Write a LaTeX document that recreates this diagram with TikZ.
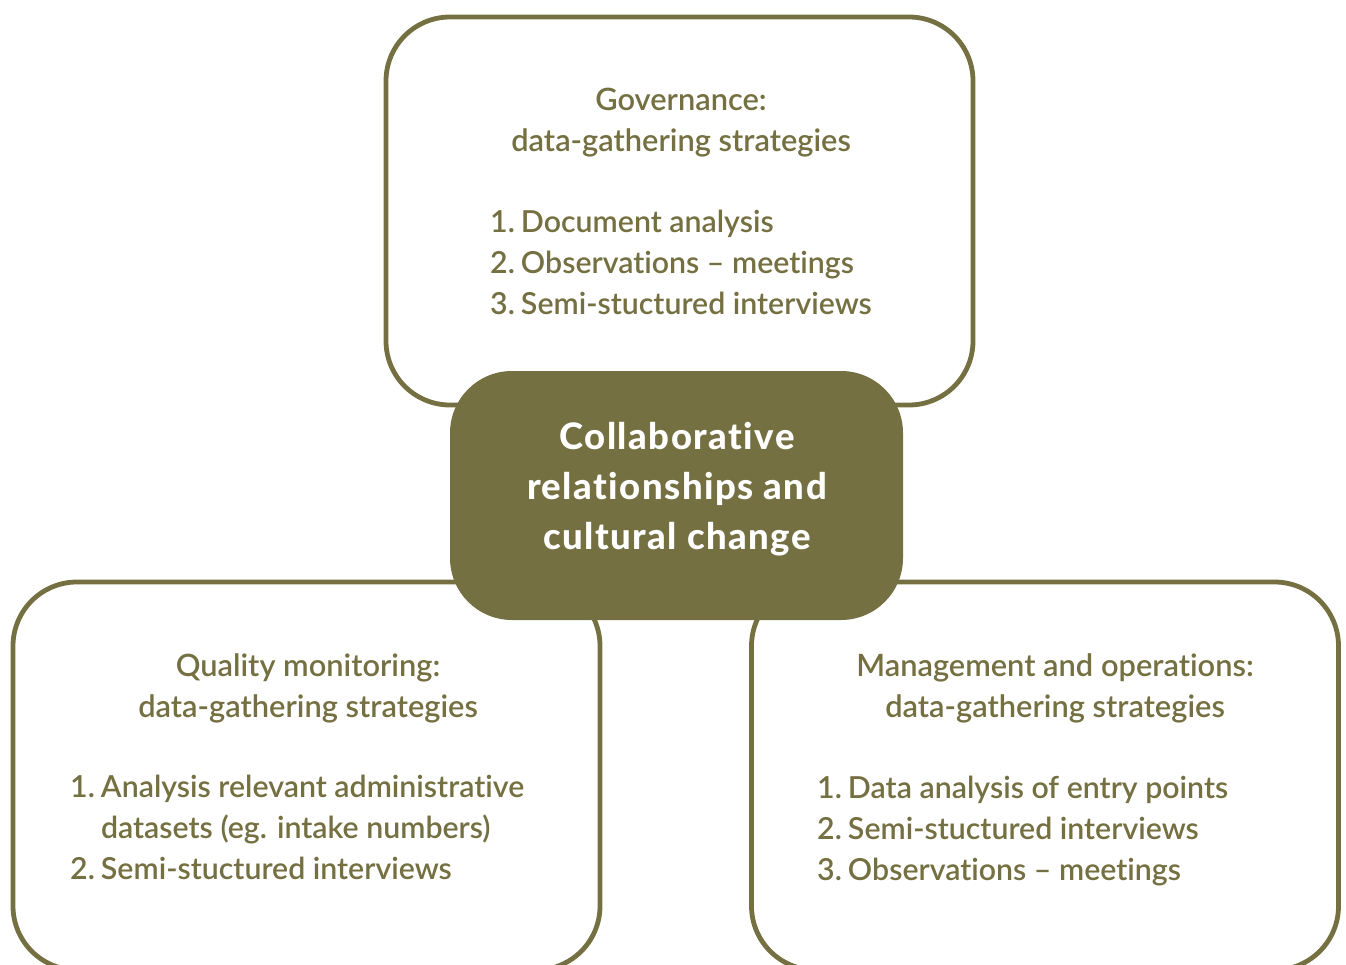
\documentclass[tikz,border=0pt]{standalone}
\usepackage{fontspec}
\setmainfont{Lato}
\IfFontExistsTF{Lato Semibold}{\newfontfamily\bodyfont[Ligatures={TeX,NoCommon}]{Lato Semibold}}{\newfontfamily\bodyfont[Ligatures={TeX,NoCommon}]{Lato}}
\IfFontExistsTF{Lato Heavy}{\newfontfamily\titlefont[LetterSpace=4,Ligatures={TeX,NoCommon}]{Lato Heavy}}{\newfontfamily\titlefont[LetterSpace=4,Ligatures={TeX,NoCommon}]{Lato Bold}}
\definecolor{olive}{RGB}{117,112,65}
\newcommand{\itm}[1]{#1\hspace{0.2em}}
\begin{document}
\begin{tikzpicture}[x=1pt,y=-1pt,
  outline/.style={draw=olive,line width=4.8pt,fill=white,rounded corners=64pt,
    minimum width=587pt,minimum height=388pt,inner sep=0pt},
  core/.style={fill=olive,draw=none,rounded corners=62pt,
    minimum width=453pt,minimum height=249pt,inner sep=0pt},
  head/.style={text=olive,font=\bodyfont\fontsize{30.8}{41}\selectfont,align=center,anchor=base,inner sep=0pt},
  items/.style={text=olive,font=\bodyfont\fontsize{30.3}{40.8}\selectfont,align=left,anchor=base west,inner sep=0pt},
  title/.style={text=white,font=\titlefont\fontsize{36.5}{50}\selectfont,align=center,anchor=base,inner sep=0pt}]
\useasboundingbox (0,0) rectangle (1346,965);
\clip (0,0) rectangle (1346,965);
\node[outline] (gov) at (679.5,211) {};
\node[outline] (qual) at (306.5,776) {};
\node[outline] (mgmt) at (1045,776) {};
\node[core] (core) at (676.5,495.5) {};
% governance
\node[head] (govh) at (681,151.5) {Governance:\\data-gathering strategies};
\node[items] (govl) at (490,314.5) {\itm{1.}Document analysis\\\itm{2.}Observations \textendash{} meetings\\\itm{3.}Semi-stuctured interviews};
% quality
\node[head] (qualh) at (308,717.5) {Quality monitoring:\\data-gathering strategies};
\node[items] (quall) at (70,879.5) {\itm{1.}Analysis relevant administrative\\\itm{\phantom{1.}}datasets (eg. intake numbers)\\\itm{2.}Semi-stuctured interviews};
% management
\node[head] (mgmth) at (1055,717.5) {Management and operations:\\data-gathering strategies};
\node[items] (mgmtl) at (817,880) {\itm{1.}Data analysis of entry points\\\itm{2.}Semi-stuctured interviews\\\itm{3.}Observations \textendash{} meetings};
% core
\node[title] (coret) at (677,549) {Collaborative\\relationships and\\cultural change};
\end{tikzpicture}
\end{document}
